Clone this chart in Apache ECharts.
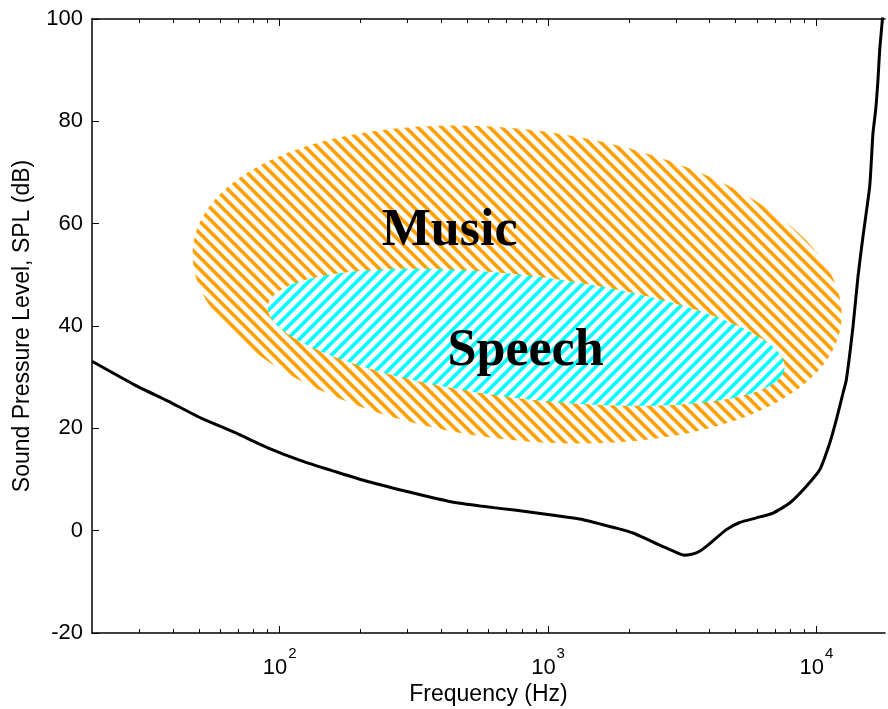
<!DOCTYPE html>
<html><head><meta charset="utf-8">
<script src="https://cdn.jsdelivr.net/npm/echarts@6/dist/echarts.min.js"></script>
<style>html,body{margin:0;padding:0;background:#fff}#c{width:888px;height:709px}</style>
</head><body><div id="c"></div>
<script>
// ---- data ----
const freqHz = [20, 28.8, 38.4, 51, 68, 90.4, 120, 160, 213, 323, 430, 571, 762, 1014, 1350, 1796, 2070, 2390, 2570, 2900, 3228, 3568, 3889, 4617, 5176, 5970, 6887, 7943, 9172, 10278, 11200, 11860, 12556, 12920, 13680, 14280, 14860, 15787, 16020, 16236, 16620, 16945, 17200, 17600, 17900];
const thresholdDb = [33.1, 28.5, 25.3, 22.0, 19.2, 16.2, 13.7, 11.6, 9.6, 7.2, 5.7, 4.75, 3.97, 3.1, 2.15, 0.5, -0.45, -1.9, -2.7, -3.9, -4.8, -4.36, -3.07, 0.2, 1.6, 2.5, 3.45, 5.4, 8.7, 11.9, 17.1, 21.7, 26.9, 29.5, 39.9, 49.7, 57.0, 67.3, 72.5, 77.7, 82.3, 88.1, 94.0, 99.9, 105];
const yTicks = [-20, 0, 20, 40, 60, 80, 100];
const xMajorTicks = [100, 1000, 10000];
const xMinorTicks = [30, 40, 50, 60, 70, 80, 90, 200, 300, 400, 500, 600, 700, 800, 900, 2000, 3000, 4000, 5000, 6000, 7000, 8000, 9000];
const xMajorLabels = ['{b|10}{s|2}', '{b|10}{s|3}', '{b|10}{s|4}'];
// ellipse regions: [centre f, centre dB, right-extreme f, right-extreme dB, f above centre, top dB]
const musicRegion = [767, 48.1, 12410, 42.2, 767, 78.6];
const speechRegion = [829, 37.8, 7611, 32.05, 829, 49.9];
const regionNames = ['Music', 'Speech'];
const regionLabelFreq = [430, 825];
const regionLabelDb = [58.4, 35.0];

function makeStripes(rgb, dir, period, duty) {
  const P = period, cv = document.createElement('canvas');
  cv.width = P; cv.height = P;
  const ctx = cv.getContext('2d');
  const img = ctx.createImageData(P, P);
  const N = 6;
  for (let y = 0; y < P; y++) for (let x = 0; x < P; x++) {
    let hit = 0;
    for (let j = 0; j < N; j++) for (let i = 0; i < N; i++) {
      const sx = x + (i + 0.5) / N, sy = y + (j + 0.5) / N;
      let s = dir > 0 ? sx + sy : sx - sy;
      s = ((s % P) + P) % P;
      if (s < duty * P) hit++;
    }
    const a = hit / (N * N), k = (y * P + x) * 4;
    img.data[k] = Math.round(255 * (1 - a) + rgb[0] * a);
    img.data[k + 1] = Math.round(255 * (1 - a) + rgb[1] * a);
    img.data[k + 2] = Math.round(255 * (1 - a) + rgb[2] * a);
    img.data[k + 3] = 255;
  }
  ctx.putImageData(img, 0, 0);
  return cv;
}
const orangePattern = makeStripes([255, 160, 0], -1, 12, 0.42);
const cyanPattern = makeStripes([0, 255, 255], 1, 12, 0.42);

function regionRenderer(pattern) {
  return function (params, api) {
    const c = api.coord([api.value(0), api.value(1)]);
    const r = api.coord([api.value(2), api.value(3)]);
    const t = api.coord([api.value(4), api.value(5)]);
    const ux = r[0] - c[0], uy = r[1] - c[1], vx = t[0] - c[0], vy = t[1] - c[1];
    const pts = [];
    for (let i = 0; i < 160; i++) {
      const a = i / 160 * Math.PI * 2;
      pts.push([c[0] + Math.cos(a) * ux + Math.sin(a) * vx, c[1] + Math.cos(a) * uy + Math.sin(a) * vy]);
    }
    return { type: 'polygon', shape: { points: pts }, style: { fill: { image: pattern, repeat: 'repeat' }, stroke: null } };
  };
}

const chart = echarts.init(document.getElementById('c'), null, { renderer: 'canvas' });
const axisColor = '#000';
const xMin = 20, xMax = 18000;
function xAxisDef(pos, ticks, len, withLine, withLabel) {
  return {
    type: 'log', logBase: 10, min: xMin, max: xMax, position: pos,
    axisLine: { show: withLine, onZero: false, lineStyle: { color: axisColor, width: 1.5 } },
    axisTick: { show: true, inside: true, length: len, customValues: ticks, lineStyle: { color: axisColor, width: 1 } },
    axisLabel: withLabel ? {
      show: true, customValues: xMajorTicks, margin: 13, color: '#000',
      fontFamily: 'Liberation Sans, Arial', fontSize: 22,
      formatter: function (v) { const i = xMajorTicks.indexOf(Math.round(v)); return i >= 0 ? xMajorLabels[i] : ''; },
      rich: {
        b: { fontSize: 22, fontFamily: 'Liberation Sans, Arial', color: '#000', verticalAlign: 'bottom' },
        s: { fontSize: 15, fontFamily: 'Liberation Sans, Arial', color: '#000', verticalAlign: 'top', padding: [0, 0, 18, 1] }
      }
    } : { show: false },
    splitLine: { show: false }, minorTick: { show: false }, minorSplitLine: { show: false },
    name: withLabel ? 'Frequency (Hz)' : '', nameLocation: 'middle', nameGap: 50, nameMoveOverlap: false,
    nameTextStyle: { fontFamily: 'Liberation Sans, Arial', fontSize: 23, color: '#000' }
  };
}

chart.setOption({
  animation: false,
  backgroundColor: '#fff',
  grid: { left: 92, right: 3, top: 19, bottom: 76, containLabel: false, outerBoundsMode: 'none' },
  xAxis: [
    xAxisDef('bottom', xMajorTicks, 7, true, true),
    xAxisDef('bottom', xMinorTicks, 4, false, false),
    xAxisDef('top', xMajorTicks, 7, true, false),
    xAxisDef('top', xMinorTicks, 4, false, false)
  ],
  yAxis: {
    type: 'value', min: -20, max: 100, interval: 20,
    axisLine: { show: true, onZero: false, lineStyle: { color: axisColor, width: 1.5 } },
    axisTick: { show: true, inside: true, length: 7, customValues: yTicks, lineStyle: { color: axisColor, width: 1 } },
    axisLabel: { customValues: yTicks, margin: 9, color: '#000', fontFamily: 'Liberation Sans, Arial', fontSize: 22 },
    splitLine: { show: false },
    name: 'Sound Pressure Level, SPL (dB)', nameLocation: 'middle', nameGap: 58, nameMoveOverlap: false,
    nameTextStyle: { fontFamily: 'Liberation Sans, Arial', fontSize: 23, color: '#000' }
  },
  series: [
    { type: 'custom', name: 'Music', xAxisIndex: 0, renderItem: regionRenderer(orangePattern), data: [musicRegion], z: 1, silent: true },
    { type: 'custom', name: 'Speech', xAxisIndex: 0, renderItem: regionRenderer(cyanPattern), data: [speechRegion], z: 2, silent: true },
    {
      type: 'custom', name: 'labels', xAxisIndex: 0, z: 3, silent: true,
      data: regionNames.map((n, i) => [regionLabelFreq[i], regionLabelDb[i], i]),
      renderItem: function (params, api) {
        const p = api.coord([api.value(0), api.value(1)]);
        return { type: 'text', x: p[0], y: p[1], style: { text: regionNames[api.value(2)], font: 'bold 52px "Liberation Serif", "Times New Roman", serif', fill: '#000', align: 'center', verticalAlign: 'middle' } };
      }
    },
    {
      type: 'line', name: 'threshold', xAxisIndex: 0, z: 4, showSymbol: false, smooth: 0.2, clip: true,
      data: freqHz.map((f, i) => [f, thresholdDb[i]]),
      lineStyle: { color: '#000', width: 3 }
    }
  ]
});
</script></body></html>
